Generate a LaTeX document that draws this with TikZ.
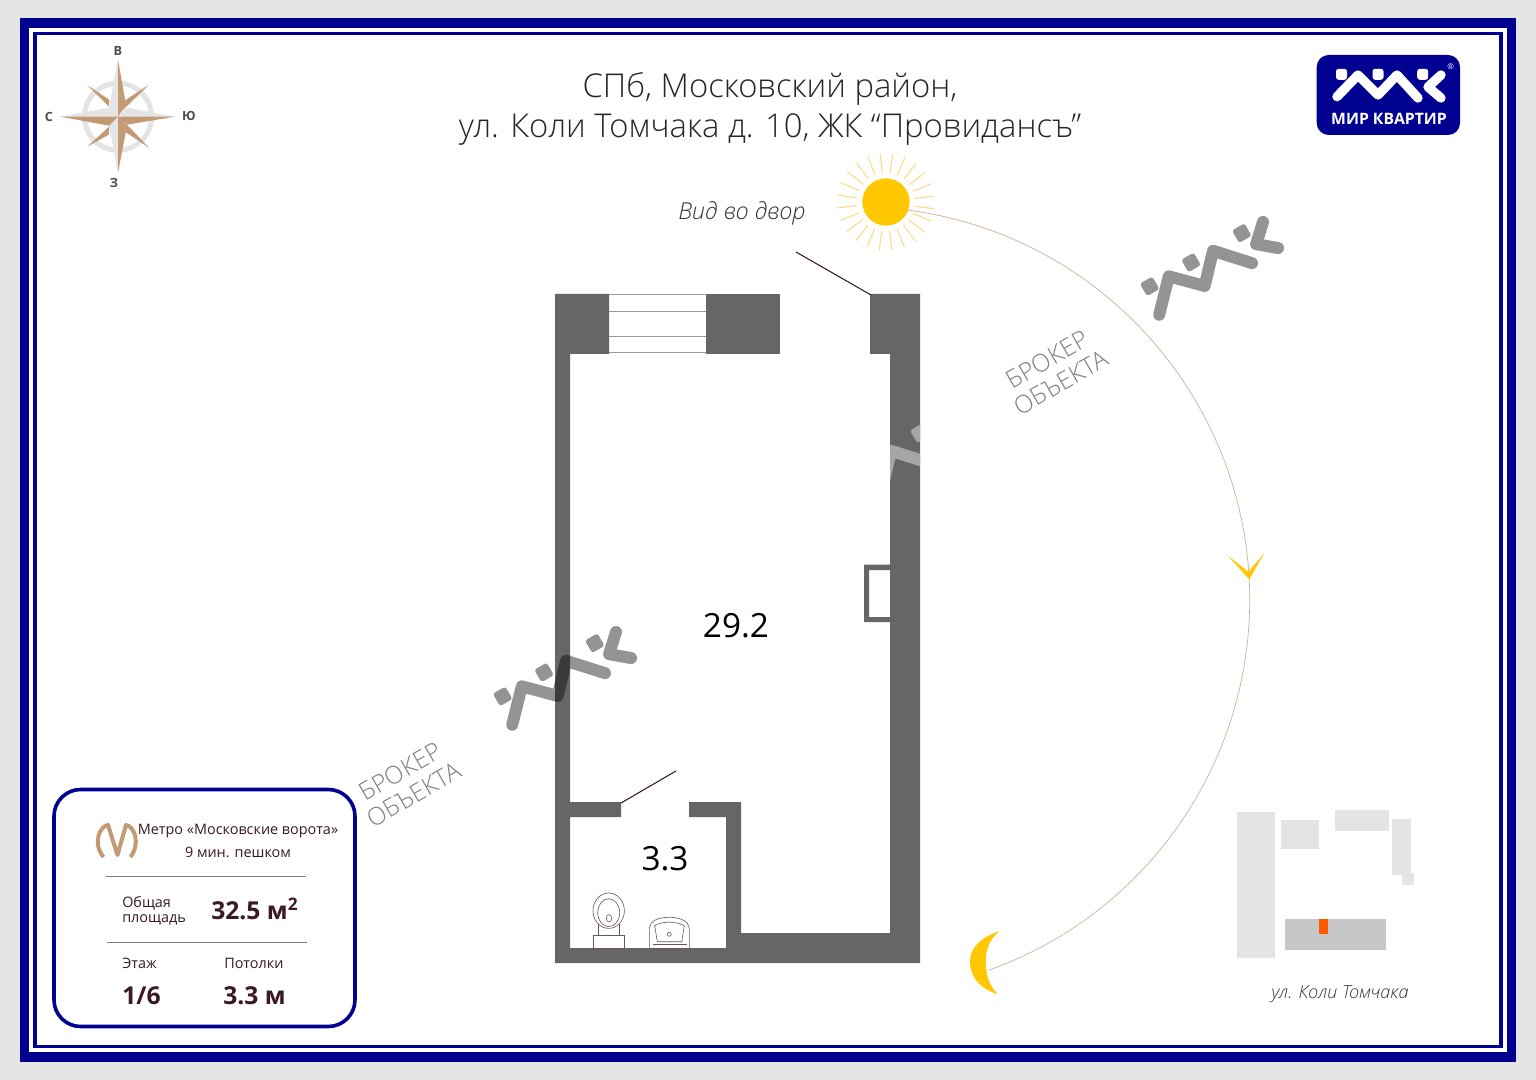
\documentclass[tikz,border=0pt]{standalone}
\usepackage{fontspec}
\setmainfont{Open Sans}
\newfontfamily\titlefont{Open Sans Light}
\definecolor{frameblue}{HTML}{000091}
\definecolor{wallgray}{HTML}{666666}
\definecolor{inkmaroon}{HTML}{3A1A20}
\definecolor{sunyellow}{HTML}{FFC800}
\definecolor{raycolor}{HTML}{F7DE86}
\definecolor{tanbrown}{HTML}{C49A74}
\definecolor{palegray}{HTML}{E4E4E4}
\tikzset{
    wall-fill/.style = {fill=wallgray},
    fixture-line/.style = {draw=inkmaroon!75, line width=0.45pt},
    door-line/.style = {draw=inkmaroon, line width=0.8pt},
    window-line/.style = {draw=black!40, line width=0.7pt},
    watermark-mark/.style = {draw=black, fill=black, opacity=0.42, line width=9pt},
    watermark-text/.style = {text=black!50, font=\titlefont\fontsize{18.5}{20}\selectfont, align=center, rotate=30},
    compass-label/.style = {text=black!70, font=\bfseries\fontsize{9.5}{11}\selectfont},
    info-label/.style = {text=inkmaroon, font=\fontsize{10.8}{11.5}\selectfont, align=left},
    info-value/.style = {text=inkmaroon, font=\bfseries\fontsize{18.5}{21}\selectfont},
    room-label/.style = {text=black, font=\fontsize{25}{28}\selectfont},
    map-block/.style = {fill=palegray},
    divider-line/.style = {draw=inkmaroon!60, line width=0.5pt},
    path-arc/.style = {draw=tanbrown!80, line width=0.5pt},
}
\newcommand{\logomark}{
    \draw[line cap=round, line join=round, fill=none] (-53,9.7) -- (-32,-12) -- (-12,8) -- (7,-12) -- (28,11);
    \draw[line cap=round, line join=round, fill=none] (51,-12) -- (38,0) -- (51,11);
    \fill[rounded corners=2pt, draw=none] (-54,-18.2) rectangle (-43,-7.2);
    \fill[rounded corners=2pt, draw=none] (-17.5,-18.2) rectangle (-6.5,-7.2);
    \fill[rounded corners=2pt, draw=none] (27.2,-18.2) rectangle (38.2,-7.2);
}
\begin{document}
\begin{tikzpicture}[x=0.75pt,y=-0.75pt]
\useasboundingbox (0,0) rectangle (1536,1080);
\fill[black!10] (0,0) rectangle (1536,1080);
\fill[frameblue] (20,18) rectangle (1516,1062);
\fill[white] (29.3,28) rectangle (1506.7,1052);
\fill[frameblue] (33.3,32.3) rectangle (1502.7,1048);
\fill[white] (36.7,35.3) rectangle (1499.3,1045);
% compass
\begin{scope}[shift={(118,116.7)}]
\draw[palegray, line width=3.8pt] (0,0) circle (33.5);
\fill[palegray] (0,0) -- (0,-57) -- (-9,-9) -- cycle (0,0) -- (57,0) -- (9,-9) -- cycle (0,0) -- (-57.5,0) -- (-9,-9) -- cycle (0,0) -- (0,56) -- (-9,9) -- cycle;
\fill[tanbrown] (0,0) -- (0,-57) -- (8,-12) -- cycle (0,0) -- (57,0) -- (9,8) -- cycle (0,0) -- (-57.5,0) -- (-9,9) -- cycle (0,0) -- (0,56) -- (9,9) -- cycle;
\fill[tanbrown] (0,-2) -- (8,-17) -- (31,-32) -- cycle (9,8) -- (31,31) -- (7,15) -- cycle (-8.7,9.7) -- (-30.7,30) -- (-9.3,18) -- cycle (-31,-31.7) -- (-8.7,-17) -- (-9.3,-10.5) -- cycle;
\end{scope}
\node[compass-label] (north) at (118,51) {В};
\node[compass-label] (west) at (49,117) {С};
\node[compass-label] (east) at (189,116) {Ю};
\node[compass-label] (south) at (114,183) {З};
% title
\node[font=\titlefont\fontsize{24.6}{30}\selectfont, text=black!85, align=center] (title) at (770,109) {СПб, Московский район,\\ул. Коли Томчака д. 10, ЖК “Провидансъ”};
% logo
\fill[frameblue, rounded corners=9pt] (1316.7,55) rectangle (1460,135);
\begin{scope}[shift={(1390,87)}, draw=white, fill=white, line width=7pt]
\logomark
\end{scope}
\node[text=white, font=\bfseries\fontsize{11.8}{13}\selectfont] (logotext) at (1389,119) {МИР КВАРТИР};
\node[text=white, font=\fontsize{6}{7}\selectfont] (logomarkr) at (1450.7,66.7) {®};
% sun and path
\foreach \a in {0,15,...,345}
    \draw[raycolor, line width=0.8pt] (886,202)+(\a+8:29) -- +(\a+8:49);
\node[circle, fill=sunyellow, minimum size=35.5pt, inner sep=0pt] (sun) at (886,202) {};
\node[text=black!80, font=\titlefont\itshape\fontsize{17.5}{20}\selectfont] (view) at (742,213) {Вид во двор};
% plan
\fill[wall-fill] (555,294) -- (609,294) -- (609,354) -- (570,354) -- (570,802) -- (621,802) -- (621,817) -- (570,817) -- (570,948) -- (726,948) -- (726,817) -- (689,817) -- (689,802) -- (741,802) -- (741,933) -- (890,933) -- (890,354) -- (870,354) -- (870,294) -- (920,294) -- (920,963) -- (555,963) -- cycle;
\fill[wall-fill] (706,294) rectangle (780,354);
\fill[wall-fill, even odd rule] (864,564.5) rectangle (890,622) (869,570) rectangle (890,617);
\foreach \y in {294.5,311,336,352.7}
    \draw[window-line] (609,\y) -- (706,\y);
\coordinate (doorhinge) at (871,295);
\coordinate (doorfree) at (796,252);
\draw[door-line] (doorhinge) -- (doorfree);
\coordinate (bathhinge) at (621,803);
\coordinate (bathfree) at (676,771);
\draw[door-line] (bathhinge) -- (bathfree);
\node[room-label] (mainroom) at (736,626) {29.2};
\node[room-label] (bathroom) at (665,859) {3.3};
% toilet
\draw[fixture-line] (593.3,935.7) rectangle (624,948.3);
\draw[fixture-line] (598.7,935.7) -- (598.7,924) (619,935.7) -- (619,924);
\draw[fixture-line, fill=white] (608.7,910.7) ellipse (15.7 and 17.7);
\draw[fixture-line] (608.7,912.7) ellipse (11 and 14);
\draw[fixture-line] (609,918.3) ellipse (2.7 and 3.7);
% sink
\draw[fixture-line] (649.3,948.3) -- (649.3,928) .. controls (650,921) and (658,917.3) .. (669,917.3) .. controls (680,917.3) and (688.6,921) .. (689.3,928) -- (689.3,948.3) -- cycle;
\draw[fixture-line] (654.7,925.7) .. controls (662,921) and (676,921) .. (684.3,925.7) -- (681.7,941.7) -- (657.3,941.7) -- cycle;
\draw[fixture-line] (653.3,944) -- (686.7,944);
\draw[fixture-line] (669.3,934.3) circle (2);
% watermarks
\begin{scope}[shift={(1213,269)}, rotate=30, scale=1.31, watermark-mark]
\logomark
\end{scope}
\begin{scope}[shift={(566,679)}, rotate=30, scale=1.31, watermark-mark]
\logomark
\end{scope}
\begin{scope}
\clip (890,400) rectangle (920,500);
\begin{scope}[shift={(891,469)}, rotate=30, scale=1.31, draw=black!35, fill=black!35, line width=9pt]
\logomark
\end{scope}
\end{scope}
\node[watermark-text] (brokerright) at (1054,371) {БРОКЕР\\ОБЪЕКТА};
\node[watermark-text] (brokerleft) at (407,783) {БРОКЕР\\ОБЪЕКТА};
% path of the sun
\draw[path-arc] (sun.-20) arc[start angle=82.4, end angle=-70.4, radius=294.9pt];
\fill[sunyellow] (1227.7,555.7) -- (1248.3,571.7) -- (1264.3,553.3) -- (1249.3,579.3) -- cycle;
\fill[sunyellow] (999.3,931) .. controls (980,938) and (970,948) .. (970,962) .. controls (970,978) and (982,990) .. (997.7,994) .. controls (989,986) and (985.7,974) .. (985.7,962) .. controls (985.7,950) and (989,940) .. (999.3,931) -- cycle;
% site map
\fill[map-block] (1237.3,812.3) rectangle (1275,957.7);
\fill[map-block] (1281.3,820) rectangle (1319.3,848.7);
\fill[map-block] (1335.3,810) rectangle (1389,830.7);
\fill[map-block] (1392.3,818.7) rectangle (1411,874.7);
\fill[map-block] (1401.7,873.3) rectangle (1414,885);
\fill[black!22] (1285,919) rectangle (1385.7,950);
\fill[orange!70!red] (1319.3,919) rectangle (1328.3,934);
\node[text=black!80, font=\titlefont\itshape\fontsize{13.5}{15}\selectfont] (street) at (1340,994) {ул. Коли Томчака};
% info box
\draw[frameblue, line width=2.7pt, fill=white, rounded corners=20pt] (54,789.5) rectangle (355,1026.5);
\draw[tanbrown, line width=3pt, line join=round] (103.5,857) .. controls (92,843) and (100,826) .. (108,825) -- (117.5,855) -- (126,825) .. controls (134,826) and (141,843) .. (130.5,857);
\node[info-label] (metro) at (238,831) {Метро «Московские ворота»};
\node[info-label] (walk) at (238,852.5) {9 мин. пешком};
\coordinate (topruleleft) at (105.7,876);
\coordinate (toprulelright) at (305.7,876);
\draw[divider-line] (topruleleft) -- (toprulelright);
\node[info-label, anchor=west, inner sep=0pt] (arealabel) at (122,910.5) {Общая\\площадь};
\node[info-value, anchor=west, inner sep=0pt] (areavalue) at (211,909) {32.5 м\textsuperscript{2}};
\coordinate (midruleleft) at (107,942);
\coordinate (midruleright) at (307,942);
\draw[divider-line] (midruleleft) -- (midruleright);
\node[info-label, anchor=west, inner sep=0pt] (floorlabel) at (122,963) {Этаж};
\node[info-label, anchor=west, inner sep=0pt] (ceilinglabel) at (224,963) {Потолки};
\node[info-value, anchor=west, inner sep=0pt] (floorvalue) at (122,996) {1/6};
\node[info-value, anchor=west, inner sep=0pt] (ceilingvalue) at (223,996) {3.3 м};
\end{tikzpicture}
\end{document}
